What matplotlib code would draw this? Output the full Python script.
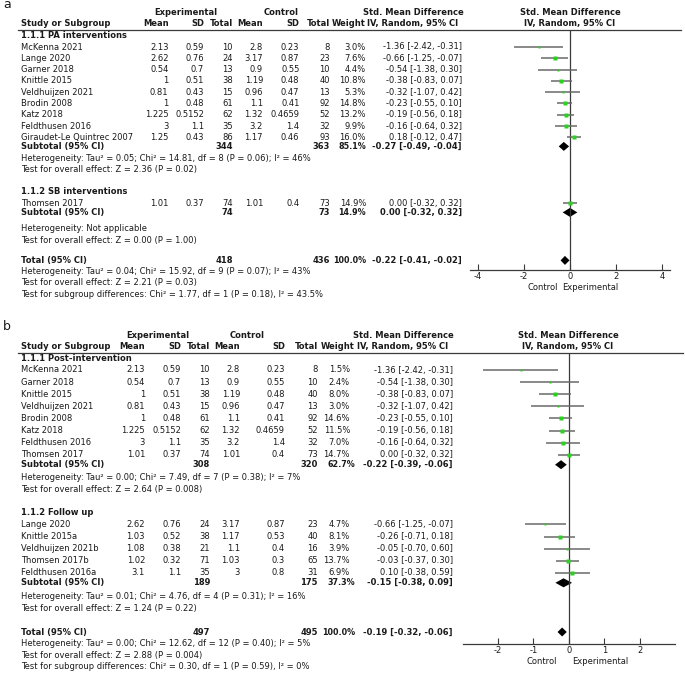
import numpy as np
import matplotlib
matplotlib.use("Agg")
import matplotlib.pyplot as plt

W, H = 685, 676

# rows: (study, mean_e, sd_e, n_e, mean_c, sd_c, n_c, weight %, smd, lo, hi)
a_pa = [
    ("McKenna 2021", 2.13, 0.59, 10, 2.8, 0.23, 8, 3.0, -1.36, -2.42, -0.31),
    ("Lange 2020", 2.62, 0.76, 24, 3.17, 0.87, 23, 7.6, -0.66, -1.25, -0.07),
    ("Garner 2018", 0.54, 0.7, 13, 0.9, 0.55, 10, 4.4, -0.54, -1.38, 0.30),
    ("Knittle 2015", 1, 0.51, 38, 1.19, 0.48, 40, 10.8, -0.38, -0.83, 0.07),
    ("Veldhuijzen 2021", 0.81, 0.43, 15, 0.96, 0.47, 13, 5.3, -0.32, -1.07, 0.42),
    ("Brodin 2008", 1, 0.48, 61, 1.1, 0.41, 92, 14.8, -0.23, -0.55, 0.10),
    ("Katz 2018", 1.225, 0.5152, 62, 1.32, 0.4659, 52, 13.2, -0.19, -0.56, 0.18),
    ("Feldthusen 2016", 3, 1.1, 35, 3.2, 1.4, 32, 9.9, -0.16, -0.64, 0.32),
    ("Giraudet-Le Quintrec 2007", 1.25, 0.43, 86, 1.17, 0.46, 93, 16.0, 0.18, -0.12, 0.47),
]
a_pa_sub = (344, 363, 85.1, -0.27, -0.49, -0.04)
a_pa_stats = ["Heterogeneity: Tau² = 0.05; Chi² = 14.81, df = 8 (P = 0.06); I² = 46%",
              "Test for overall effect: Z = 2.36 (P = 0.02)"]

a_sb = [
    ("Thomsen 2017", 1.01, 0.37, 74, 1.01, 0.4, 73, 14.9, 0.00, -0.32, 0.32),
]
a_sb_sub = (74, 73, 14.9, 0.00, -0.32, 0.32)
a_sb_stats = ["Heterogeneity: Not applicable",
              "Test for overall effect: Z = 0.00 (P = 1.00)"]

a_total = (418, 436, 100.0, -0.22, -0.41, -0.02)
a_total_stats = ["Heterogeneity: Tau² = 0.04; Chi² = 15.92, df = 9 (P = 0.07); I² = 43%",
                 "Test for overall effect: Z = 2.21 (P = 0.03)",
                 "Test for subgroup differences: Chi² = 1.77, df = 1 (P = 0.18), I² = 43.5%"]
a_ticks = [-4, -2, 0, 2, 4]

b_post = [
    ("McKenna 2021", 2.13, 0.59, 10, 2.8, 0.23, 8, 1.5, -1.36, -2.42, -0.31),
    ("Garner 2018", 0.54, 0.7, 13, 0.9, 0.55, 10, 2.4, -0.54, -1.38, 0.30),
    ("Knittle 2015", 1, 0.51, 38, 1.19, 0.48, 40, 8.0, -0.38, -0.83, 0.07),
    ("Veldhuijzen 2021", 0.81, 0.43, 15, 0.96, 0.47, 13, 3.0, -0.32, -1.07, 0.42),
    ("Brodin 2008", 1, 0.48, 61, 1.1, 0.41, 92, 14.6, -0.23, -0.55, 0.10),
    ("Katz 2018", 1.225, 0.5152, 62, 1.32, 0.4659, 52, 11.5, -0.19, -0.56, 0.18),
    ("Feldthusen 2016", 3, 1.1, 35, 3.2, 1.4, 32, 7.0, -0.16, -0.64, 0.32),
    ("Thomsen 2017", 1.01, 0.37, 74, 1.01, 0.4, 73, 14.7, 0.00, -0.32, 0.32),
]
b_post_sub = (308, 320, 62.7, -0.22, -0.39, -0.06)
b_post_stats = ["Heterogeneity: Tau² = 0.00; Chi² = 7.49, df = 7 (P = 0.38); I² = 7%",
                "Test for overall effect: Z = 2.64 (P = 0.008)"]

b_fu = [
    ("Lange 2020", 2.62, 0.76, 24, 3.17, 0.87, 23, 4.7, -0.66, -1.25, -0.07),
    ("Knittle 2015a", 1.03, 0.52, 38, 1.17, 0.53, 40, 8.1, -0.26, -0.71, 0.18),
    ("Veldhuijzen 2021b", 1.08, 0.38, 21, 1.1, 0.4, 16, 3.9, -0.05, -0.70, 0.60),
    ("Thomsen 2017b", 1.02, 0.32, 71, 1.03, 0.3, 65, 13.7, -0.03, -0.37, 0.30),
    ("Feldthusen 2016a", 3.1, 1.1, 35, 3, 0.8, 31, 6.9, 0.10, -0.38, 0.59),
]
b_fu_sub = (189, 175, 37.3, -0.15, -0.38, 0.09)
b_fu_stats = ["Heterogeneity: Tau² = 0.01; Chi² = 4.76, df = 4 (P = 0.31); I² = 16%",
              "Test for overall effect: Z = 1.24 (P = 0.22)"]

b_total = (497, 495, 100.0, -0.19, -0.32, -0.06)
b_total_stats = ["Heterogeneity: Tau² = 0.00; Chi² = 12.62, df = 12 (P = 0.40); I² = 5%",
                 "Test for overall effect: Z = 2.88 (P = 0.004)",
                 "Test for subgroup differences: Chi² = 0.30, df = 1 (P = 0.59), I² = 0%"]
b_ticks = [-2, -1, 0, 1, 2]

FS = 6.0
INK = "#1a1a1a"
GREEN = "#2bd11f"
CI_GREY = "#6a6a6a"
AXIS = "#3a3a3a"

fig = plt.figure(figsize=(W / 100, H / 100), dpi=100)
bg = fig.add_axes([0, 0, 1, 1])
bg.set_xlim(0, W)
bg.set_ylim(H, 0)
bg.axis("off")


def txt(x, y, s, ha="left", bold=False, size=FS):
    bg.text(x, y, s, ha=ha, va="center", fontsize=size, color=INK,
            fontweight="bold" if bold else "normal")


def fmt_ci(e, lo, hi):
    return f"{e:.2f} [{lo:.2f}, {hi:.2f}]"


def diamond(ax, y, e, lo, hi, h=4.5):
    ax.fill([lo, e, hi, e], [y, y - h, y, y + h], color="black", lw=0, clip_on=False)


def summary_row(ax, c, y, label, vals):
    ne, nc, w, e, lo, hi = vals
    txt(c["name"], y, label, bold=True)
    txt(c["ne"], y, str(ne), ha="right", bold=True)
    txt(c["nc"], y, str(nc), ha="right", bold=True)
    txt(c["w_sum"], y, f"{w:.1f}%", ha="right", bold=True, size=FS - 0.2)
    txt(c["ci"], y, fmt_ci(e, lo, hi), ha="right", bold=True)
    diamond(ax, y, e, lo, hi)


def panel(letter, letter_y, line_y, axis_y, c, plot_x, xlim, ticks, groups, total, total_stats, g):
    txt(3, letter_y, letter, size=9)
    hy1, hy2 = line_y - 17.5, line_y - 6.5
    txt(c["exp"], hy1, "Experimental", ha="center", bold=True)
    txt(c["ctl"], hy1, "Control", ha="center", bold=True)
    txt(c["smd"], hy1, "Std. Mean Difference", ha="center", bold=True)
    txt(c["plot"], hy1, "Std. Mean Difference", ha="center", bold=True)
    txt(c["name"], hy2, "Study or Subgroup", bold=True)
    for key, lab in [("me", "Mean"), ("se", "SD"), ("ne", "Total"),
                     ("mc", "Mean"), ("sc", "SD"), ("nc", "Total"), ("wh", "Weight")]:
        txt(c[key], hy2, lab, ha="right", bold=True)
    txt(c["smd"], hy2, "IV, Random, 95% CI", ha="center", bold=True)
    txt(c["plot"], hy2, "IV, Random, 95% CI", ha="center", bold=True)
    bg.plot([18, c["rule_end"]], [line_y, line_y], color=AXIS, lw=0.9)

    ax = fig.add_axes([plot_x[0] / W, 1 - axis_y / H,
                       (plot_x[1] - plot_x[0]) / W, (axis_y - line_y) / H])
    ax.set_xlim(xlim)
    ax.set_ylim(axis_y, line_y)
    ax.patch.set_alpha(0)
    for s in ["top", "right", "left"]:
        ax.spines[s].set_visible(False)
    ax.spines["bottom"].set_color(AXIS)
    ax.spines["bottom"].set_linewidth(0.9)
    ax.set_yticks([])
    ax.set_xticks(ticks)
    ax.set_xticklabels([str(t) for t in ticks])
    ax.tick_params(axis="x", direction="in", length=4, width=0.8, color=AXIS,
                   labelsize=FS, labelcolor=INK, pad=1.2)
    ax.axvline(0, color=AXIS, lw=0.9)

    y = line_y + g["title"]
    for (title, rows, sub, stats), het_gap in zip(groups, g["stat0"]):
        txt(c["name"], y, title, bold=True)
        y += g["first"]
        for row in rows:
            name, me, se, ne, mc, sc, nc, w, e, lo, hi = row
            txt(c["name"], y, name)
            for key, v in zip(["me", "se", "ne", "mc", "sc", "nc"], [me, se, ne, mc, sc, nc]):
                txt(c[key], y, str(v), ha="right")
            txt(c["w"], y, f"{w:.1f}%", ha="right")
            txt(c["ci"], y, fmt_ci(e, lo, hi), ha="right")
            ax.plot([lo, hi], [y, y], color=CI_GREY, lw=1.1, solid_capstyle="butt", clip_on=False)
            side = max(2.2, 1.15 * np.sqrt(w))
            ax.plot([e], [y], "s", ms=side * 0.72, color=GREEN, mec="none", clip_on=False)
            y += g["study"]
        y += g["sub"] - g["study"]
        summary_row(ax, c, y, "Subtotal (95% CI)", sub)
        y += het_gap
        for s in stats:
            txt(c["name"], y, s)
            y += g["stat"]
        y += g["group"] - g["stat"]
    y += g["total"] - g["group"]
    summary_row(ax, c, y, "Total (95% CI)", total)
    y += g["stat_t"]
    for s in total_stats:
        txt(c["name"], y, s)
        y += g["stat"]

    txt(c["ctl_lab"], axis_y + 18, "Control", ha="right")
    txt(c["exp_lab"], axis_y + 18, "Experimental", ha="left")


cols_a = dict(name=21, me=168.5, se=204, ne=233, mc=263, sc=299.5, nc=330, w=366, wh=366,
              w_sum=366, ci=462, exp=186, ctl=281, smd=413, plot=570, rule_end=681,
              ctl_lab=558, exp_lab=562)
gaps_a = dict(title=5.5, first=11.5, study=11.3, sub=9.0, stat0=[12, 16.5], stat=11.5,
              stat_t=11, group=22, total=20)
panel("a", 5, 30, 270, cols_a, (470, 670), (-4.35, 4.35), a_ticks,
      [("1.1.1 PA interventions", a_pa, a_pa_sub, a_pa_stats),
       ("1.1.2 SB interventions", a_sb, a_sb_sub, a_sb_stats)],
      a_total, a_total_stats, gaps_a)

cols_b = dict(name=21, me=145, se=181, ne=210, mc=240, sc=285, nc=318, w=350, wh=355,
              w_sum=355, ci=453, exp=158, ctl=247, smd=403, plot=568, rule_end=683,
              ctl_lab=557, exp_lab=572)
gaps_b = dict(title=5.5, first=11.5, study=12.1, sub=10.0, stat0=[13, 14], stat=11.7,
              stat_t=11.5, group=23.5, total=23.5)
panel("b", 327, 353, 644, cols_b, (462.7, 675), (-3, 3), b_ticks,
      [("1.1.1 Post-intervention", b_post, b_post_sub, b_post_stats),
       ("1.1.2 Follow up", b_fu, b_fu_sub, b_fu_stats)],
      b_total, b_total_stats, gaps_b)

fig.savefig("out.png", dpi=100)
